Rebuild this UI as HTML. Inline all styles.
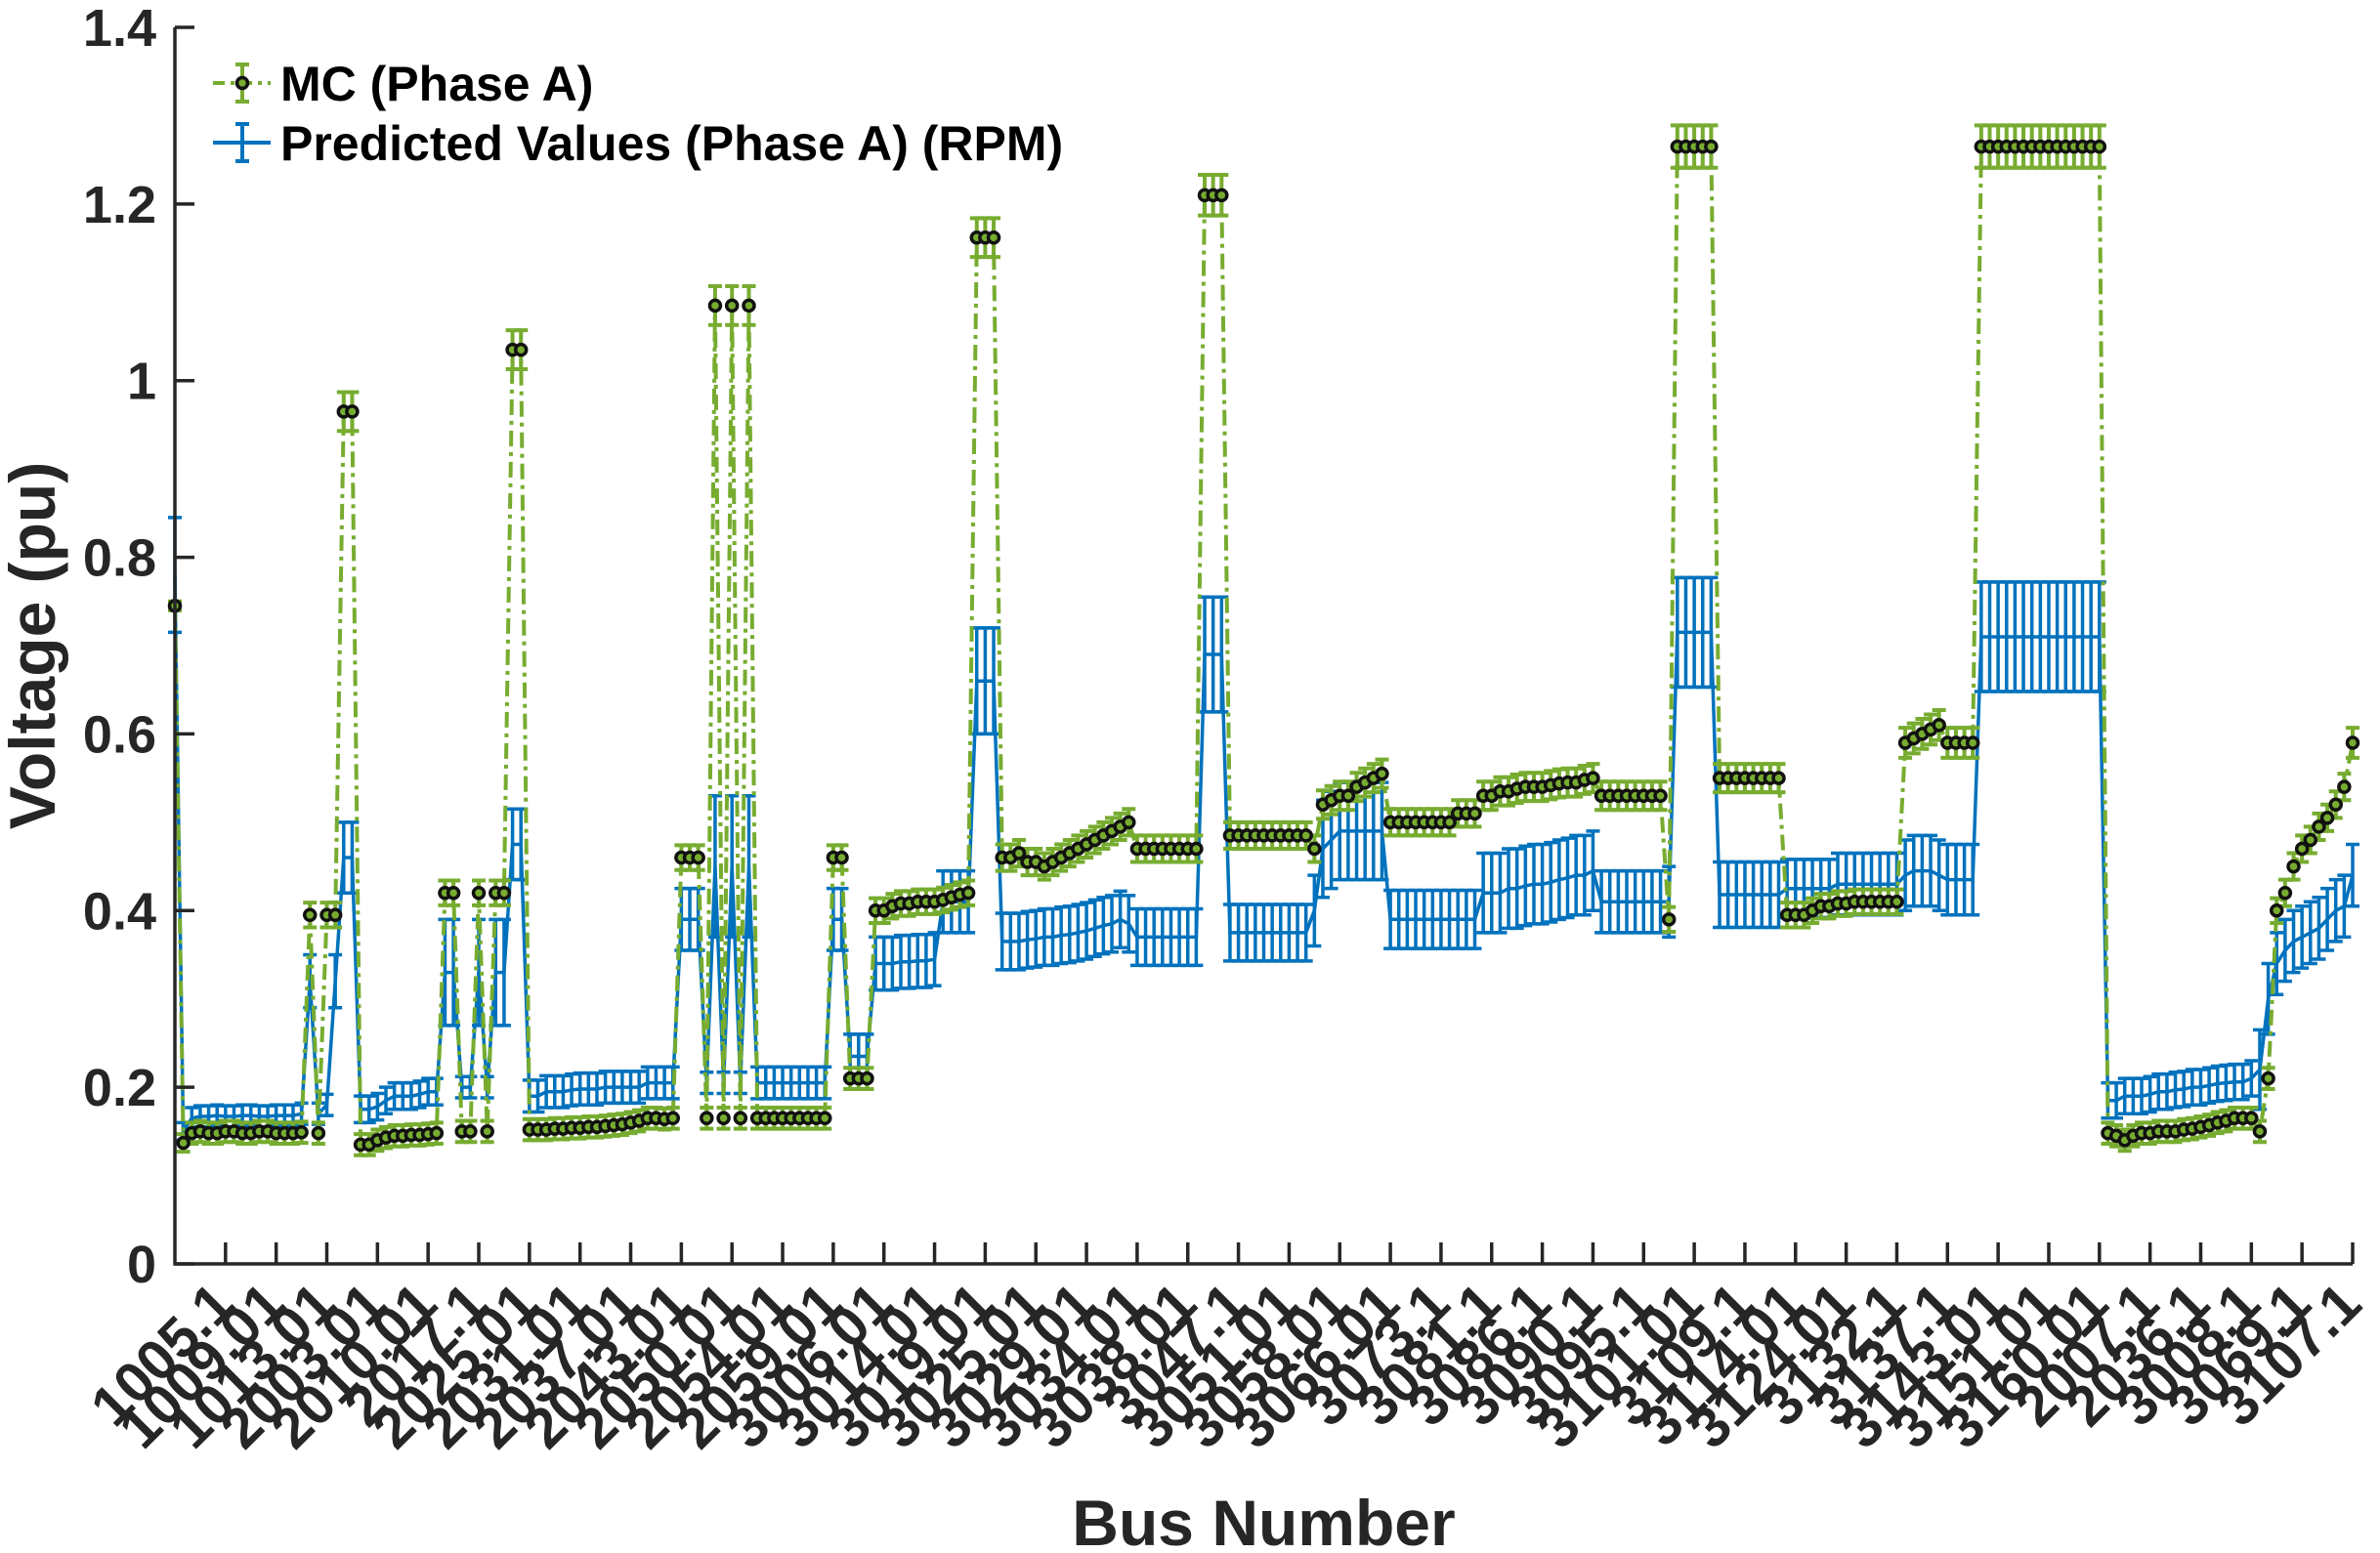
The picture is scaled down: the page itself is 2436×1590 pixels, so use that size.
<!DOCTYPE html>
<html><head><meta charset="utf-8"><style>
html,body{margin:0;padding:0;background:#fff;}
svg{display:block;font-family:"Liberation Sans",Arial,sans-serif;font-weight:bold;}
</style></head><body>
<svg id="chart" width="2436" height="1590" viewBox="0 0 2436 1590" xmlns="http://www.w3.org/2000/svg">
<g id="plot"></g>
<g id="axes"></g>
<g id="legend"></g>
</svg>
<script>
const mcValues=[.745,.137,
.148,.15,.148,.148,.15,.15,.148,.148,.15,.15,.148,.148,.148,.149,
.395,.148,.395,.395,.965,.965,
.135,.135,.14,.143,.145,.145,.146,.146,.147,.148,
.42,.42,.15,.15,.42,.15,.42,.42,
1.035,1.035,
.152,.152,.152,.153,.153,.154,.154,.155,.155,.156,.157,.158,.16,.162,.165,.165,.164,.165,
.46,.46,.46,
.165,1.085,.165,1.085,.165,1.085,
.165,.165,.165,.165,.165,.165,.165,.165,.165,
.46,.46,
.21,.21,.21,
.40,.40,.405,.408,.408,.41,.41,.41,.412,.415,
.418,.42,
1.162,1.162,1.162,
.46,.46,.465,.455,.455,.45,.455,.46,.465,.47,.475,.48,.485,.49,.495,.50,
.47,.47,.47,.47,.47,.47,.47,.47,
1.21,1.21,1.21,
.485,.485,.485,.485,.485,.485,.485,.485,.485,.485,
.47,
.52,.525,.53,.53,.54,.545,.55,.555,
.50,.50,.50,.50,.50,.50,.50,.50,.51,.51,.51,
.53,.53,.535,.535,.538,.54,.54,.54,.542,.544,.545,.545,.548,.55,
.53,.53,.53,.53,.53,.53,.53,.53,
.39,
1.265,1.265,1.265,1.265,1.265,
.55,.55,.55,.55,.55,.55,.55,.55,
.395,.395,.395,.40,.405,.405,
.408,.408,.41,.41,.41,.41,.41,.41,
.59,.595,.60,.605,.61,
.59,.59,.59,.59,
1.265,1.265,1.265,1.265,1.265,1.265,1.265,1.265,1.265,1.265,1.265,1.265,1.265,1.265,1.265,
.148,.145,.14,.145,.148,.148,.15,
.15,.15,.152,.153,.155,.157,.16,.162,.165,.165,
.165,.15,.21,.40,
.42,.45,.47,.48,.495,.505,.52,.54,.59];
const mcErrors=[.005,.01,
.012,.012,.012,.012,.012,.012,.012,.012,.012,.012,.012,.012,.012,.012,
.014,.012,.014,.014,.022,.022,
.012,.012,.012,.012,.012,.012,.012,.012,.012,.012,
.014,.014,.012,.012,.014,.012,.014,.014,
.022,.022,
.012,.012,.012,.012,.012,.012,.012,.012,.012,.012,.012,.012,.012,.012,.012,.012,.012,.012,
.014,.014,.014,
.012,.022,.012,.022,.012,.022,
.012,.012,.012,.012,.012,.012,.012,.012,.012,
.014,.014,
.012,.012,.012,
.014,.014,.014,.014,.014,.014,.014,.014,.014,.014,
.014,.014,
.022,.022,.022,
.015,.015,.015,.015,.015,.015,.015,.015,.015,.015,.015,.015,.015,.015,.015,.015,
.015,.015,.015,.015,.015,.015,.015,.015,
.023,.023,.023,
.015,.015,.015,.015,.015,.015,.015,.015,.015,.015,
.015,
.016,.016,.016,.016,.016,.016,.016,.016,
.015,.015,.015,.015,.015,.015,.015,.015,.015,.015,.015,
.016,.016,.016,.016,.016,.016,.016,.016,.016,.016,.016,.016,.016,.016,
.016,.016,.016,.016,.016,.016,.016,.016,
.014,
.024,.024,.024,.024,.024,
.016,.016,.016,.016,.016,.016,.016,.016,
.014,.014,.014,.014,.014,.014,
.014,.014,.014,.014,.014,.014,.014,.014,
.017,.017,.017,.017,.017,
.017,.017,.017,.017,
.024,.024,.024,.024,.024,.024,.024,.024,.024,.024,.024,.024,.024,.024,.024,
.012,.012,.012,.012,.012,.012,.012,
.012,.012,.012,.012,.012,.012,.012,.012,.012,.012,
.012,.012,.012,.014,
.015,.015,.015,.015,.015,.015,.015,.015,.017];
const predValues=[.78,.15,
.165,.167,.167,.168,.167,.167,.168,.168,.167,.167,.168,.168,.168,.17,
.32,.17,.18,.32,.46,.46,
.175,.175,.178,.185,.19,.19,.19,.192,.195,.195,
.33,.33,.20,.20,.33,.20,.33,.33,
.475,.475,
.19,.19,.195,.195,.195,.197,.198,.198,.198,.2,.2,.2,.2,.2,.205,.205,.205,.205,
.39,.39,.39,
.205,.45,.205,.45,.205,.45,
.205,.205,.205,.205,.205,.205,.205,.205,.205,
.39,.39,
.235,.235,.235,
.34,.34,.34,.342,.342,.343,.343,.345,.41,.41,
.41,.41,
.66,.66,.66,
.365,.365,.365,.367,.368,.37,.37,.372,.373,.375,.377,.38,.383,.385,.39,.385,
.37,.37,.37,.37,.37,.37,.37,.37,
.69,.69,.69,
.375,.375,.375,.375,.375,.375,.375,.375,.375,.375,
.40,
.47,.48,.49,.49,.49,.49,.49,.49,
.39,.39,.39,.39,.39,.39,.39,.39,.39,.39,.39,
.42,.42,.42,.425,.425,.428,.43,.43,.432,.435,.437,.44,.44,.445,
.41,.41,.41,.41,.41,.41,.41,.41,
.41,
.715,.715,.715,.715,.715,
.418,.418,.418,.418,.418,.418,.418,.418,
.425,.425,.425,.425,.425,.425,
.43,.43,.43,.43,.43,.43,.43,.43,
.44,.445,.445,.445,.44,
.435,.435,.435,.435,
.71,.71,.71,.71,.71,.71,.71,.71,.71,.71,.71,.71,.71,.71,.71,
.185,.185,.19,.19,.19,.192,.195,
.195,.197,.198,.2,.2,.202,.204,.205,.206,.206,
.21,.22,.30,.34,
.355,.365,.37,.375,.38,.39,.40,.405,.44];
const predErrors=[.065,.01,
.012,.012,.012,.012,.012,.012,.012,.012,.012,.012,.012,.012,.012,.012,
.03,.012,.012,.03,.04,.04,
.015,.015,.015,.015,.015,.015,.015,.015,.015,.015,
.06,.06,.012,.012,.06,.012,.06,.06,
.04,.04,
.018,.018,.018,.018,.018,.018,.018,.018,.018,.018,.018,.018,.018,.018,.018,.018,.018,.018,
.035,.035,.035,
.012,.08,.012,.08,.012,.08,
.018,.018,.018,.018,.018,.018,.018,.018,.018,
.035,.035,
.025,.025,.025,
.03,.03,.03,.03,.03,.03,.03,.03,.035,.035,
.035,.035,
.06,.06,.06,
.032,.032,.032,.032,.032,.032,.032,.032,.032,.032,.032,.032,.032,.032,.032,.032,
.032,.032,.032,.032,.032,.032,.032,.032,
.065,.065,.065,
.032,.032,.032,.032,.032,.032,.032,.032,.032,.032,
.04,
.055,.055,.055,.055,.055,.055,.055,.055,
.033,.033,.033,.033,.033,.033,.033,.033,.033,.033,.033,
.045,.045,.045,.045,.045,.045,.045,.045,.045,.045,.045,.045,.045,.045,
.035,.035,.035,.035,.035,.035,.035,.035,
.04,
.062,.062,.062,.062,.062,
.037,.037,.037,.037,.037,.037,.037,.037,
.033,.033,.033,.033,.033,.033,
.035,.035,.035,.035,.035,.035,.035,.035,
.04,.04,.04,.04,.04,
.04,.04,.04,.04,
.062,.062,.062,.062,.062,.062,.062,.062,.062,.062,.062,.062,.062,.062,.062,
.02,.02,.02,.02,.02,.02,.02,
.02,.02,.02,.02,.02,.02,.02,.02,.02,.02,
.02,.045,.04,.035,
.035,.035,.035,.035,.035,.035,.035,.035,.035];
const xTickLabels=["1005.1","1009.01","1013.01","2003.01","2010.01","2017.1","2025.01","2031.01","2037.01","2043.01","2050.01","2054.01","2059.01","3006.01","3014.01","3019.01","3025.01","3029.01","3034.01","3038.01","3047.1","3051.01","3058.01","3066.01","3073.1","3081.1","3086.1","3090.1","3095.1","3101.01","3109.1","3114.01","3124.01","3132.1","3137.1","3143.01","3151.01","3160.01","2007.1","2036.1","3008.1","3069.1","3107.1"];
const yTickValues=[0,0.2,0.4,0.6,0.8,1,1.2,1.4];
const yTickLabels=["0","0.2","0.4","0.6","0.8","1","1.2","1.4"];

const NS="http://www.w3.org/2000/svg";
const L=179,R=2408,T=28,B=1294;
const N=mcValues.length;
const xMax=Math.max(N-1,1);
function xs(i){return L+(R-L)*i/xMax;}
function ys(v){return B-(B-T)*v/1.4;}
function mk(tag,attrs,parent){const e=document.createElementNS(NS,tag);for(const k in attrs)e.setAttribute(k,attrs[k]);parent.appendChild(e);return e;}
const plot=document.getElementById('plot'),axes=document.getElementById('axes'),legend=document.getElementById('legend');
const BLUE="#0072BD",GREEN="#77AC30";
const cap=7;

const gP=mk('g',{},plot);


let dP='';
for(let i=0;i<predValues.length;i++){dP+=(i?'L':'M')+xs(i).toFixed(1)+' '+ys(predValues[i]).toFixed(1);}
const pl=mk('path',{d:dP,fill:'none',stroke:BLUE,'stroke-width':3.5},gP);


for(let i=0;i<predValues.length;i++){
  const x=xs(i),y1=ys(predValues[i]+predErrors[i]),y2=ys(predValues[i]-predErrors[i]);
  const eb=mk('path',{d:`M${x} ${y1}L${x} ${y2}M${x-cap} ${y1}L${x+cap} ${y1}M${x-cap} ${y2}L${x+cap} ${y2}`,stroke:BLUE,'stroke-width':3.5,fill:'none'},gP);
  
  
}

const gM=mk('g',{},plot);


let dM='';
for(let i=0;i<mcValues.length;i++){dM+=(i?'L':'M')+xs(i).toFixed(1)+' '+ys(mcValues[i]).toFixed(1);}
const ml=mk('path',{d:dM,fill:'none',stroke:GREEN,'stroke-width':4,'stroke-dasharray':'16 6 4 6'},gM);


for(let i=0;i<mcValues.length;i++){
  const x=xs(i),y1=ys(mcValues[i]+mcErrors[i]),y2=ys(mcValues[i]-mcErrors[i]);
  const eb=mk('path',{d:`M${x} ${y1}L${x} ${y2}M${x-cap} ${y1}L${x+cap} ${y1}M${x-cap} ${y2}L${x+cap} ${y2}`,stroke:GREEN,'stroke-width':4,fill:'none'},gM);
  
  
}
for(let i=0;i<mcValues.length;i++){
  const c=mk('circle',{cx:xs(i),cy:ys(mcValues[i]),r:5.5,fill:GREEN,stroke:'#111','stroke-width':3.5},gM);
  
  
}

const ax=mk('path',{d:`M${L} ${T}L${L} ${B}L${R} ${B}`,stroke:'#262626','stroke-width':3.5,fill:'none'},axes);


for(let k=0;k<yTickValues.length;k++){
  const y=ys(yTickValues[k]);
  const t=mk('line',{x1:L,x2:L+20,y1:y,y2:y,stroke:'#262626','stroke-width':3.5},axes);
  
  
  const tx=mk('text',{x:160,y:y+19,'text-anchor':'end','font-size':54,fill:'#262626'},axes);
  tx.textContent=yTickLabels[k];
  
  
}
const step=xMax/xTickLabels.length;
for(let k=0;k<xTickLabels.length;k++){
  const x=xs((k+1)*step);
  const t=mk('line',{x1:x,x2:x,y1:B,y2:B-22,stroke:'#262626','stroke-width':3.5},axes);
  
  
  const tx=mk('text',{x:x+12,y:B+44,'text-anchor':'end','font-size':58,fill:'#262626',transform:`rotate(-45 ${x+12} ${B+44})`},axes);
  tx.textContent=xTickLabels[k];
  
  
}
const yt=mk('text',{x:0,y:0,'text-anchor':'middle','font-size':66,fill:'#262626',transform:`translate(56 ${(T+B)/2}) rotate(-90)`},axes);
yt.textContent='Voltage (pu)';


const xt=mk('text',{x:(L+R)/2,y:1582,'text-anchor':'middle','font-size':66,fill:'#262626'},axes);
xt.textContent='Bus Number';



const e1=mk('g',{},legend);


mk('path',{d:'M218 85L277 85',stroke:GREEN,'stroke-width':4,'stroke-dasharray':'12 6 4 6'},e1);
mk('path',{d:'M248 66L248 104M241 66L255 66M241 104L255 104',stroke:GREEN,'stroke-width':4,fill:'none'},e1);
mk('circle',{cx:248,cy:85,r:5.5,fill:GREEN,stroke:'#111','stroke-width':3.5},e1);
const l1=mk('text',{x:287,y:103,'font-size':50,fill:'#000'},e1);
l1.textContent='MC (Phase A)';


const e2=mk('g',{},legend);


mk('path',{d:'M218 146L277 146M248 127L248 165M241 127L255 127M241 165L255 165',stroke:BLUE,'stroke-width':4,fill:'none'},e2);
const l2=mk('text',{x:287,y:164,'font-size':50,fill:'#000'},e2);
l2.textContent='Predicted Values (Phase A) (RPM)';


</script>
</body></html>
